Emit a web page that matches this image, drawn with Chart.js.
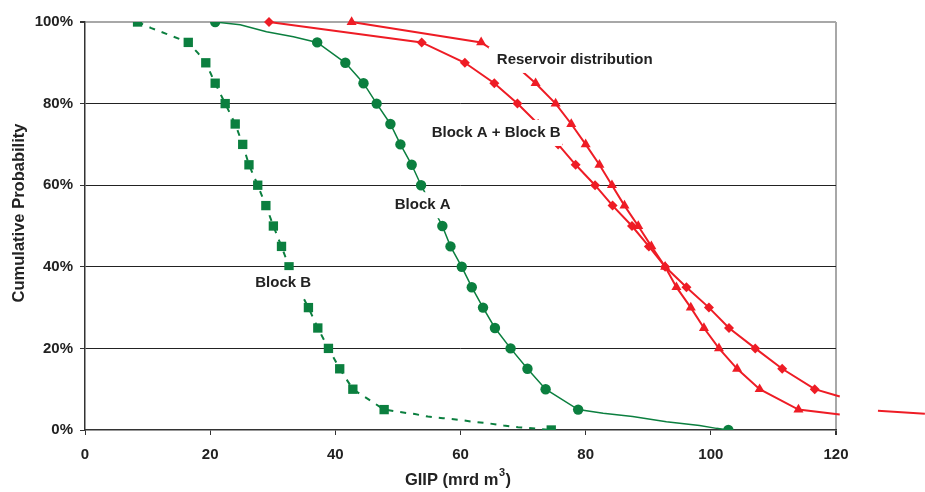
<!DOCTYPE html>
<html>
<head>
<meta charset="utf-8">
<script src="https://cdn.jsdelivr.net/npm/chart.js@4.4.1/dist/chart.umd.min.js"></script>
<style>
    html, body { margin: 0; padding: 0; background: #fff; }
    #wrap { width: 925px; height: 492px; }
</style>
</head>
<body>
<div id="wrap"><canvas id="giipChart" width="925" height="492"></canvas></div>
<script>
// cumulative probability levels (%)
const probLevels = [100, 95, 90, 85, 80, 75, 70, 65, 60, 55, 50, 45, 40, 35, 30, 25, 20, 15, 10, 5, 0];

// Block B (squares), GIIP at each level
const blockBX = [8.4, 16.5, 19.3, 20.8, 22.4, 24.0, 25.2, 26.2, 27.6, 28.9, 30.1, 31.4, 32.6, 34.0, 35.7, 37.2, 38.9, 40.7, 42.8, 47.8, 74.5];
// extra points on the dashed curve between the markers
const blockBCurveX = [10.6, 13.0, 18.1, 50.3, 52.7, 54.8, 57.2, 59.8, 62.1, 64.6, 66.9, 69.2];
const blockBCurveY = [98.5, 97.1, 92.3, 4.4, 3.9, 3.3, 2.9, 2.5, 2.0, 1.6, 1.1, 0.7];

// Block A (circles)
const blockAX = [20.8, 37.1, 41.6, 44.5, 46.6, 48.8, 50.4, 52.2, 53.7, 55.4, 57.1, 58.4, 60.2, 61.8, 63.6, 65.5, 68.0, 70.7, 73.6, 78.8, 102.8];
const blockACurveX = [24.8, 29.0, 33.3, 82.8, 87.5, 92.9, 98.2, 100.9];
const blockACurveY = [99.3, 97.6, 96.4, 4.1, 3.3, 2.0, 1.1, 0.4];

// Reservoir distribution (triangles), 100% .. 5%
const reservoirX = [42.6, 63.3, 68.3, 72.0, 75.2, 77.7, 80.0, 82.2, 84.2, 86.2, 88.4, 90.5, 92.7, 94.5, 96.8, 98.9, 101.3, 104.2, 107.8, 114.0];
const reservoirEndX = [120.6];
const reservoirEndY = [3.8];
const reservoirTailX = [126.7, 134.2];
const reservoirTailY = [4.7, 4.0];

// Block A + Block B (diamonds), 100% .. 10%
const sumABX = [29.4, 53.8, 60.7, 65.4, 69.1, 72.4, 75.6, 78.4, 81.5, 84.3, 87.4, 90.1, 92.7, 96.1, 99.7, 102.9, 107.1, 111.4, 116.6];
const sumABEndX = [120.6];
const sumABEndY = [8.2];

const xTicks = [0, 20, 40, 60, 80, 100, 120];
const yTicks = [0, 20, 40, 60, 80, 100];

const green = '#0b7f3f';
const red = '#ee1c25';
const textColor = '#222';
const fontFamily = '"Liberation Sans", Arial, sans-serif';

// labels next to the curves (data coordinates)
const curveLabels = [
    { text: 'Reservoir distribution', x: 65.8, y: 90.7, padX: 8 },
    { text: 'Block A + Block B', x: 55.4, y: 72.8, padX: 2 },
    { text: 'Block A', x: 49.5, y: 55.1, padX: 3 },
    { text: 'Block B', x: 27.2, y: 36.0, padX: 3 }
];

function buildPoints(markX, markY, extraX, extraY) {
    let pts = markX.map((x, i) => ({ x: x, y: markY[i], m: true }));
    pts = pts.concat(extraX.map((x, i) => ({ x: x, y: extraY[i], m: false })));
    pts.sort((a, b) => b.y - a.y || a.x - b.x);
    return pts;
}

function markerRadius(r) {
    return function (c) {
        return c.raw && c.raw.m ? r : 0;
    };
}

const labelPlugin = {
    id: 'curveLabels',
    afterDatasetsDraw(chart) {
        const c = chart.ctx;
        const xs = chart.scales.x;
        const ys = chart.scales.y;
        c.save();
        c.font = 'bold 15px ' + fontFamily;
        c.textBaseline = 'middle';
        c.textAlign = 'left';
        curveLabels.forEach(l => {
            const px = xs.getPixelForValue(l.x);
            const py = ys.getPixelForValue(l.y);
            const w = c.measureText(l.text).width;
            c.fillStyle = '#fff';
            c.fillRect(px - l.padX, py - 13, w + 2 * l.padX, 26);
            c.fillStyle = textColor;
            c.fillText(l.text, px, py);
        });
        c.restore();
    }
};

// axis titles drawn by hand to place them like the original
const axisTitlePlugin = {
    id: 'axisTitles',
    afterDraw(chart) {
        const c = chart.ctx;
        c.save();
        c.font = 'bold 16.5px ' + fontFamily;
        c.fillStyle = textColor;
        c.textAlign = 'center';
        c.textBaseline = 'middle';
        c.translate(19, 213);
        c.rotate(-Math.PI / 2);
        c.fillText('Cumulative Probability', 0, 0);
        c.restore();

        // GIIP (mrd m3) with a raised 3
        c.save();
        c.fillStyle = textColor;
        c.textBaseline = 'middle';
        c.textAlign = 'left';
        const mainFont = 'bold 16.5px ' + fontFamily;
        const supFont = 'bold 11px ' + fontFamily;
        c.font = mainFont;
        const w1 = c.measureText('GIIP (mrd m').width;
        const w3 = c.measureText(')').width;
        c.font = supFont;
        const w2 = c.measureText('3').width + 1;
        let x = 458 - (w1 + w2 + w3) / 2;
        c.font = mainFont;
        c.fillText('GIIP (mrd m', x, 480);
        c.font = supFont;
        c.fillText('3', x + w1 + 0.5, 473);
        c.font = mainFont;
        c.fillText(')', x + w1 + w2, 480);
        c.restore();
    }
};

const ctx = document.getElementById('giipChart').getContext('2d');
const giipChart = new Chart(ctx, {
    type: 'scatter',
    data: {
        datasets: [
            {
                label: 'Block B',
                data: buildPoints(blockBX, probLevels, blockBCurveX, blockBCurveY),
                showLine: true,
                borderColor: green,
                borderWidth: 2,
                borderDash: [6, 7],
                backgroundColor: green,
                pointStyle: 'rect',
                pointRadius: markerRadius(6.6),
                pointBorderWidth: 0
            },
            {
                label: 'Block A',
                data: buildPoints(blockAX, probLevels, blockACurveX, blockACurveY),
                showLine: true,
                borderColor: green,
                borderWidth: 1.5,
                backgroundColor: green,
                pointStyle: 'circle',
                pointRadius: markerRadius(5.2),
                pointBorderWidth: 0
            },
            {
                label: 'Reservoir distribution',
                data: buildPoints(reservoirX, probLevels.slice(0, 20), reservoirEndX, reservoirEndY),
                showLine: true,
                clip: false,
                borderColor: red,
                borderWidth: 2,
                backgroundColor: red,
                pointStyle: 'triangle',
                pointRadius: markerRadius(5.8),
                pointBorderWidth: 0
            },
            {
                label: 'Reservoir tail',
                data: buildPoints([], [], reservoirTailX, reservoirTailY),
                showLine: true,
                clip: false,
                borderColor: red,
                borderWidth: 2,
                pointRadius: 0
            },
            {
                label: 'Block A + Block B',
                data: buildPoints(sumABX, probLevels.slice(0, 19), sumABEndX, sumABEndY),
                showLine: true,
                clip: false,
                borderColor: red,
                borderWidth: 2,
                backgroundColor: red,
                pointStyle: 'rectRot',
                pointRadius: markerRadius(5),
                pointBorderWidth: 0
            }
        ]
    },
    options: {
        responsive: false,
        animation: false,
        layout: {
            padding: { top: 22, right: 89, left: 0, bottom: 0 }
        },
        plugins: {
            legend: { display: false },
            tooltip: { enabled: false }
        },
        scales: {
            x: {
                type: 'linear',
                min: 0,
                max: 120,
                afterFit: s => { s.height = 62; },
                afterBuildTicks: s => { s.ticks = xTicks.map(v => ({ value: v })); },
                ticks: {
                    color: textColor,
                    font: { family: fontFamily, size: 15, weight: 'bold' },
                    padding: 11,
                    maxRotation: 0
                },
                grid: {
                    color: c => c.tick && c.tick.value === 120 ? '#a8a8a8' : 'rgba(0,0,0,0)',
                    lineWidth: c => c.tick && c.tick.value === 120 ? 2 : 1,
                    tickColor: '#333',
                    tickLength: 5
                },
                border: { color: '#333', width: 1.5 }
            },
            y: {
                min: 0,
                max: 100,
                afterFit: s => { s.width = 85; },
                afterBuildTicks: s => { s.ticks = yTicks.map(v => ({ value: v })); },
                ticks: {
                    color: textColor,
                    font: { family: fontFamily, size: 15, weight: 'bold' },
                    padding: 7,
                    callback: v => v + '%'
                },
                grid: {
                    color: c => {
                        if (!c.tick) return '#222';
                        if (c.tick.value === 100) return '#a8a8a8';
                        if (c.tick.value === 0) return 'rgba(0,0,0,0)';
                        return '#222';
                    },
                    lineWidth: c => c.tick && c.tick.value === 100 ? 2 : 1,
                    tickColor: '#333',
                    tickLength: 5
                },
                border: { color: '#333', width: 1.5 }
            }
        }
    },
    plugins: [labelPlugin, axisTitlePlugin]
});
</script>
</body>
</html>
